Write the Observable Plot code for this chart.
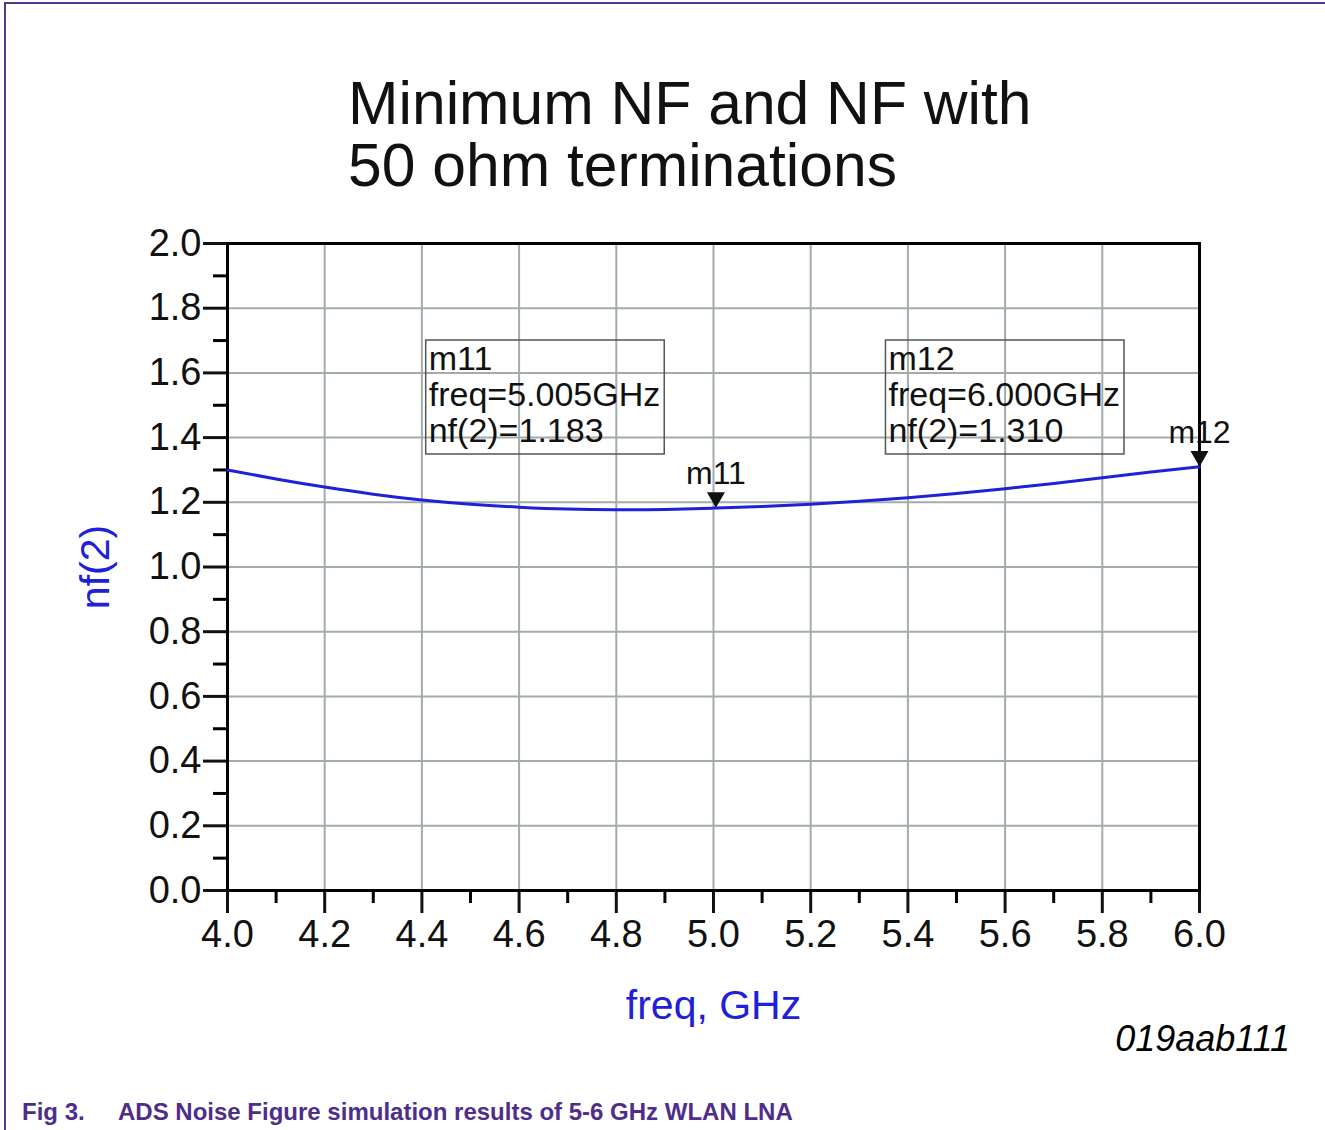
<!DOCTYPE html>
<html>
<head>
<meta charset="utf-8">
<script src="https://cdn.jsdelivr.net/npm/d3@7"></script>
<script src="https://cdn.jsdelivr.net/npm/@observablehq/plot@0.6"></script>
<style>
  html, body { margin: 0; padding: 0; background: #fff; }
  #page { position: relative; width: 1325px; height: 1130px; overflow: hidden; font-family: "Liberation Sans", Arial, sans-serif; }
  #border { position: absolute; left: 4px; top: 2px; width: 1330px; height: 1140px; border-top: 2px solid #55368c; border-left: 2px solid #55368c; }
  #title { position: absolute; left: 348px; top: 72px; font-size: 60.6px; line-height: 62px; color: #111; white-space: nowrap; }
  #chart { position: absolute; left: 0; top: 200px; }
  #code { position: absolute; right: 35px; top: 1021px; font-size: 36px; line-height: 36px; font-style: italic; color: #000; }
  .cap { position: absolute; top: 1100px; font-size: 24px; line-height: 24px; font-weight: bold; color: #4f2d8a; white-space: nowrap; }
</style>
</head>
<body>
<div id="page">
  <div id="border"></div>
  <div id="title">Minimum NF and NF with<br>50 ohm terminations</div>
  <div id="chart"></div>
  <div id="code">019aab111</div>
  <div class="cap" style="left:22px">Fig 3.</div>
  <div class="cap" style="left:118px">ADS Noise Figure simulation results of 5-6 GHz WLAN LNA</div>
</div>
<script>
// ---- data ----
const freqGHz = [4.0, 4.1, 4.2, 4.3, 4.4, 4.5, 4.6, 4.7, 4.8, 4.9, 5.0, 5.1, 5.2, 5.3, 5.4, 5.5, 5.6, 5.7, 5.8, 5.9, 6.0];
const nf2     = [1.300, 1.272, 1.247, 1.225, 1.207, 1.194, 1.185, 1.179, 1.177, 1.178, 1.182, 1.187, 1.194, 1.203, 1.214, 1.227, 1.242, 1.258, 1.276, 1.294, 1.310];
const markerNames = ["m11", "m12"];
const markerFreq  = [5.005, 6.000];
const markerNf    = [1.183, 1.310];
const xTicks      = [4.0, 4.2, 4.4, 4.6, 4.8, 5.0, 5.2, 5.4, 5.6, 5.8, 6.0];
const xMinorTicks = [4.1, 4.3, 4.5, 4.7, 4.9, 5.1, 5.3, 5.5, 5.7, 5.9];
const yTicks      = [0.0, 0.2, 0.4, 0.6, 0.8, 1.0, 1.2, 1.4, 1.6, 1.8, 2.0];
const yMinorTicks = [0.1, 0.3, 0.5, 0.7, 0.9, 1.1, 1.3, 1.5, 1.7, 1.9];
const xLabel = "freq, GHz";
const yLabel = "nf(2)";

// ---- tables ----
const curve = freqGHz.map((f, i) => ({freq: f, nf: nf2[i]}));
const markers = markerNames.map((n, i) => ({name: n, freq: markerFreq[i], nf: markerNf[i]}));
// readout box placement (data space, top-left of text)
const boxPlace = {m11: [4.414, 1.688], m12: [5.360, 1.688]};
const boxes = markers.map(m => ({
  bx: boxPlace[m.name][0], by: boxPlace[m.name][1],
  label: `${m.name}\nfreq=${m.freq.toFixed(3)}GHz\nnf(2)=${m.nf.toFixed(3)}`
}));

const blue = "#2020d8";
const gridColor = "#a3abab";
const font = "Liberation Sans, Arial, sans-serif";

// down-pointing triangle with its tip at the data point
const downTri = {
  draw(ctx, size) {
    const a = Math.sqrt(size * 4 / Math.sqrt(3));
    const h = a * Math.sqrt(3) / 2;
    ctx.moveTo(0, 0);
    ctx.lineTo(-a / 2, -h);
    ctx.lineTo(a / 2, -h);
    ctx.closePath();
  }
};

const chart = Plot.plot({
  width: 1325,
  height: 830,
  marginTop: 43,
  marginBottom: 140,
  marginLeft: 227,
  marginRight: 126,
  style: {fontFamily: font, background: "transparent", overflow: "visible"},
  x: {domain: [4, 6], axis: null},
  y: {domain: [0, 2], axis: null},
  marks: [
    Plot.gridX({ticks: xTicks, stroke: gridColor, strokeOpacity: 1, strokeWidth: 2}),
    Plot.gridY({ticks: yTicks, stroke: gridColor, strokeOpacity: 1, strokeWidth: 2}),
    Plot.axisX({ticks: xMinorTicks, tickSize: 13, tickFormat: () => "", strokeWidth: 3, color: "black", label: null}),
    Plot.axisY({ticks: yMinorTicks, tickSize: 14, tickFormat: () => "", strokeWidth: 3, color: "black", label: null}),
    Plot.axisX({ticks: xTicks, tickSize: 23, tickPadding: 7, tickFormat: d => d.toFixed(1), fontSize: 38, strokeWidth: 3, color: "#111", label: null}),
    Plot.axisY({ticks: yTicks, tickSize: 24, tickPadding: 2, tickFormat: d => d.toFixed(1), fontSize: 38, strokeWidth: 3, color: "#111", label: null}),
    Plot.frame({stroke: "black", strokeWidth: 3}),
    Plot.line(curve, {x: "freq", y: "nf", stroke: blue, strokeWidth: 3, curve: "natural"}),
    Plot.dot(markers, {x: "freq", y: "nf", symbol: downTri, r: 6.7, fill: "#111"}),
    Plot.text(markers, {x: "freq", y: "nf", text: "name", dy: -34, fontSize: 32, fill: "#111", textAnchor: "middle"}),
    Plot.text(boxes, {x: "bx", y: "by", text: "label", textAnchor: "start", lineAnchor: "top", fontSize: 34, lineHeight: 36 / 34, fill: "#111"}),
    Plot.text([xLabel], {frameAnchor: "bottom", lineAnchor: "middle", textAnchor: "middle", dy: 115, fontSize: 41, fill: blue}),
    Plot.text([yLabel], {frameAnchor: "left", textAnchor: "middle", lineAnchor: "middle", dx: -132, rotate: -90, fontSize: 41, fill: blue})
  ]
});

document.getElementById("chart").appendChild(chart);

// draw thin readout boxes around the marker readouts
d3.select(chart).selectAll("text").each(function() {
  if (!this.textContent.includes("freq=")) return;
  const b = this.getBBox();
  d3.select(this.parentNode).insert("rect", () => this)
    .attr("x", b.x - 3).attr("y", b.y + 1)
    .attr("width", b.width + 7).attr("height", b.height + 4)
    .attr("fill", "none").attr("stroke", "#555").attr("stroke-width", 1.5)
    .attr("transform", this.getAttribute("transform"));
});
</script>
</body>
</html>
